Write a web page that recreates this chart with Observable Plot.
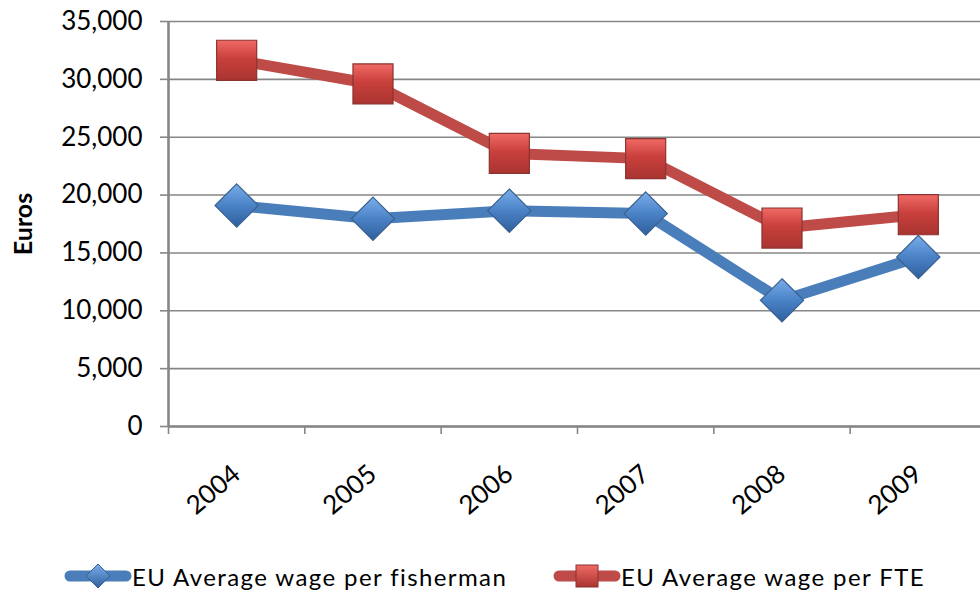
<!DOCTYPE html>
<html>
<head>
<meta charset="utf-8">
<script src="https://cdn.jsdelivr.net/npm/d3@7"></script>
<script src="https://cdn.jsdelivr.net/npm/@observablehq/plot@0.6"></script>
<style>
  html, body { margin: 0; padding: 0; background: #fff; }
  #wrap { position: relative; width: 980px; height: 594px; overflow: hidden; font-family: Lato, "Open Sans", sans-serif; }
  #chart { position: absolute; left: 0; top: 0; }
  .leg { position: absolute; top: 561px; height: 30px; display: flex; align-items: center; font-size: 24px; letter-spacing: 1.4px; color: #000; white-space: nowrap; }
  .leg svg { display: block; }
</style>
</head>
<body>
<div id="wrap">
  <div id="chart"></div>
  <div class="leg" id="leg1" style="left:64px"></div>
  <div class="leg" id="leg2" style="left:553px"></div>
</div>
<script>
const years = ["2004", "2005", "2006", "2007", "2008", "2009"];
const perFisherman = [19100, 17950, 18650, 18400, 10900, 14650];
const perFTE = [31650, 29600, 23600, 23150, 17150, 18300];
const yTicks = [0, 5000, 10000, 15000, 20000, 25000, 30000, 35000];
const seriesNames = ["EU Average wage per fisherman", "EU Average wage per FTE"];
const seriesColors = ["#4A7EBB", "#BE4B48"];

const idx = years.map((_, i) => i);
const boundaries = [...idx.map(i => i - 0.5), years.length - 0.5];
const fishData = idx.map(i => ({i, v: perFisherman[i]}));
const fteData = idx.map(i => ({i, v: perFTE[i]}));

const grey = "#868686";

const plot = Plot.plot({
  width: 980,
  height: 550,
  marginLeft: 168,
  marginTop: 21,
  marginBottom: 124,
  marginRight: 0,
  x: {type: "linear", domain: [-0.5, years.length - 0.5], range: [168, 986]},
  y: {domain: [0, 35000]},
  style: {fontFamily: "Lato, 'Open Sans', sans-serif", color: "#000", background: "white", overflow: "visible"},
  marks: [
    Plot.gridY(yTicks, {stroke: grey, strokeOpacity: 1, strokeWidth: 1.6}),
    Plot.axisY(yTicks, {tickSize: 8, tickPadding: 18, fontSize: 26, tickFormat: d3.format(","), stroke: grey, strokeWidth: 1.6, label: null}),
    Plot.ruleY([0], {stroke: grey, strokeWidth: 2.6}),
    Plot.ruleX([-0.5], {y1: 0, y2: 35000, stroke: grey, strokeWidth: 2.6}),
    Plot.axisX(boundaries, {tickSize: 8, tickFormat: () => "", stroke: grey, strokeWidth: 1.6, label: null}),
    Plot.axisX(idx, {tickSize: 0, tickPadding: 44, tickFormat: i => years[i], tickRotate: -40, fontSize: 26, label: null}),
    Plot.text(["Euros"], {frameAnchor: "left", dx: -145, rotate: -90, textAnchor: "middle", fontWeight: "bold", fontSize: 25}),
    Plot.line(fishData, {x: "i", y: "v", stroke: seriesColors[0], strokeWidth: 11, strokeLinejoin: "round"}),
    Plot.line(fteData, {x: "i", y: "v", stroke: seriesColors[1], strokeWidth: 11, strokeLinejoin: "round"}),
    Plot.dot(fishData, {x: "i", y: "v", symbol: "diamond2", r: 19.5, fill: "url(#gBlue)", stroke: "#3a618f", strokeWidth: 1.2}),
    Plot.dot(fteData, {x: "i", y: "v", symbol: "square", r: 22.6, fill: "url(#gRed)", stroke: "#8c3330", strokeWidth: 1.2})
  ]
});

function addDefs(svg) {
  const defs = d3.select(svg).insert("defs", ":first-child");
  const g1 = defs.append("linearGradient").attr("id", "gBlue").attr("x1", 0).attr("y1", 0).attr("x2", 0).attr("y2", 1);
  g1.append("stop").attr("offset", "0%").attr("stop-color", "#7aaeea");
  g1.append("stop").attr("offset", "50%").attr("stop-color", "#4a82c6");
  g1.append("stop").attr("offset", "100%").attr("stop-color", "#2f5f9c");
  const g2 = defs.append("linearGradient").attr("id", "gRed").attr("x1", 0).attr("y1", 0).attr("x2", 0).attr("y2", 1);
  g2.append("stop").attr("offset", "0%").attr("stop-color", "#f06a66");
  g2.append("stop").attr("offset", "45%").attr("stop-color", "#c9403c");
  g2.append("stop").attr("offset", "100%").attr("stop-color", "#a93431");
}
addDefs(plot);
document.getElementById("chart").appendChild(plot);

// Legend
function swatch(kind, color) {
  const w = 68, h = 30;
  const svg = d3.create("svg").attr("width", w).attr("height", h);
  const defs = svg.append("defs");
  const id = "lg" + kind;
  const g = defs.append("linearGradient").attr("id", id).attr("x1", 0).attr("y1", 0).attr("x2", 0).attr("y2", 1);
  if (kind === "d") {
    g.append("stop").attr("offset", "0%").attr("stop-color", "#7aaeea");
    g.append("stop").attr("offset", "100%").attr("stop-color", "#2f5f9c");
  } else {
    g.append("stop").attr("offset", "0%").attr("stop-color", "#f06a66");
    g.append("stop").attr("offset", "100%").attr("stop-color", "#a93431");
  }
  svg.append("line").attr("x1", 6).attr("x2", w - 6).attr("y1", h / 2).attr("y2", h / 2)
    .attr("stroke", color).attr("stroke-width", 11).attr("stroke-linecap", "round");
  if (kind === "d") {
    svg.append("path").attr("d", `M${w/2},${h/2-12}L${w/2+12},${h/2}L${w/2},${h/2+12}L${w/2-12},${h/2}Z`)
      .attr("fill", `url(#${id})`).attr("stroke", "#3a618f").attr("stroke-width", 1);
  } else {
    svg.append("rect").attr("x", w/2 - 11).attr("y", h/2 - 11).attr("width", 22).attr("height", 22)
      .attr("fill", `url(#${id})`).attr("stroke", "#8c3330").attr("stroke-width", 1);
  }
  return svg.node();
}
const leg1 = document.getElementById("leg1");
leg1.appendChild(swatch("d", seriesColors[0]));
leg1.appendChild(Object.assign(document.createElement("span"), {textContent: seriesNames[0]}));
const leg2 = document.getElementById("leg2");
leg2.appendChild(swatch("s", seriesColors[1]));
leg2.appendChild(Object.assign(document.createElement("span"), {textContent: seriesNames[1]}));
</script>
</body>
</html>
